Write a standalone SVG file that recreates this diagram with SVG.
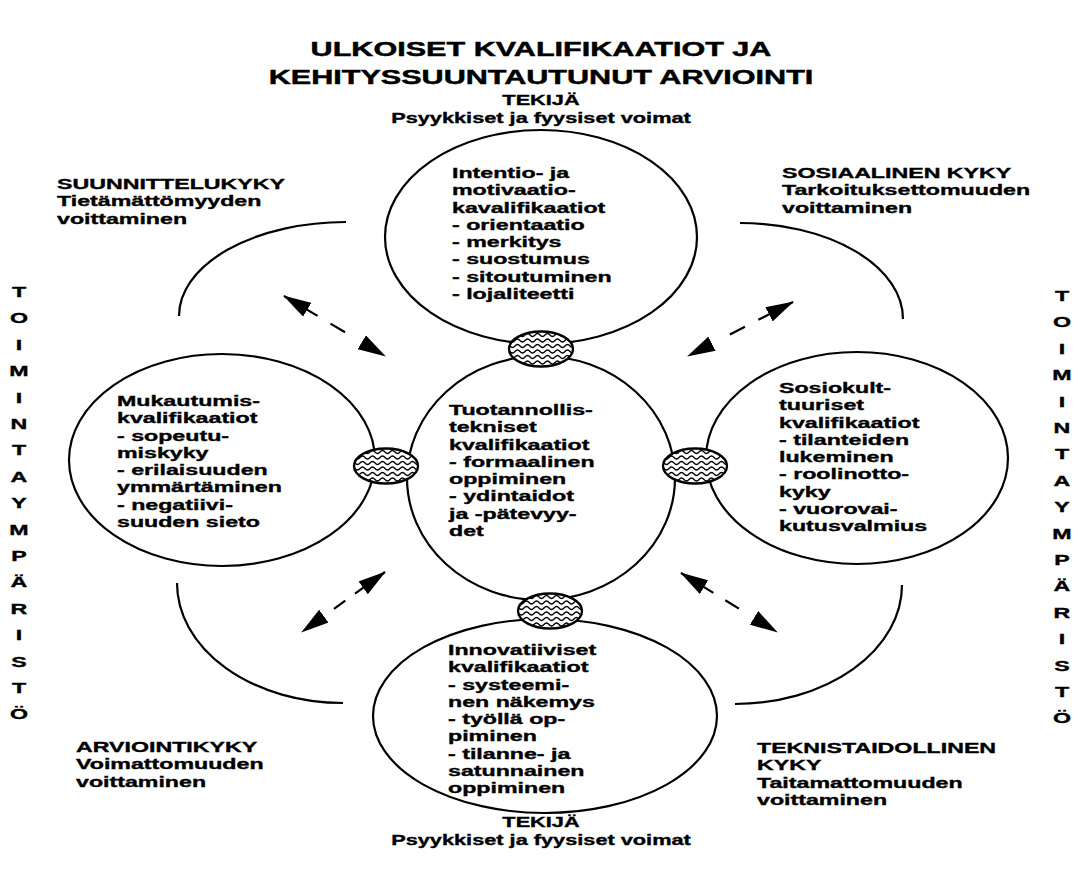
<svg xmlns="http://www.w3.org/2000/svg" xmlns:xlink="http://www.w3.org/1999/xlink" width="1081" height="872" viewBox="0 0 1081 872">
  <style>
    .t { font-family: "Liberation Sans", Arial, Helvetica, sans-serif; font-weight: bold; font-size: 14.5px; fill: #000; stroke: #000; stroke-width: 0.35px; }
    .h { font-family: "Liberation Sans", Arial, Helvetica, sans-serif; font-weight: bold; font-size: 20px; fill: #000; stroke: #000; stroke-width: 0.45px; }
    .c { text-anchor: middle; }
    .ring { fill: none; stroke: #000; stroke-width: 2.2; }
    .arc { fill: none; stroke: #000; stroke-width: 2.2; }
    .dash { fill: none; stroke: #000; stroke-width: 2.2; marker-start: url(#head); marker-end: url(#head); }
  </style>
  <defs>
    <!-- filled arrowhead used at both ends of the dashed connectors -->
    <marker id="head" viewBox="0 0 28 16" refX="27" refY="8" markerWidth="28" markerHeight="16" markerUnits="userSpaceOnUse" orient="auto-start-reverse">
      <path d="M0,0 L28,8 L0,16 z" fill="#000"/>
    </marker>
    <!-- small hatched link where two circles meet -->
    <clipPath id="knotClip"><ellipse cx="0" cy="0" rx="32" ry="17.5"/></clipPath>
    <path id="wave" d="M-36,0 q2.5,-3 5,0 t5,0 t5,0 t5,0 t5,0 t5,0 t5,0 t5,0 t5,0 t5,0 t5,0 t5,0 t5,0 t5,0 t5,0"/>
    <g id="knot">
      <ellipse cx="0" cy="0" rx="32" ry="17.5" fill="#fff"/>
      <g clip-path="url(#knotClip)" fill="none" stroke="#000" stroke-width="1.3">
        <use xlink:href="#wave" y="-14"/>
        <use xlink:href="#wave" y="-8.5"/>
        <use xlink:href="#wave" y="-3"/>
        <use xlink:href="#wave" y="2.5"/>
        <use xlink:href="#wave" y="8"/>
        <use xlink:href="#wave" y="13.5"/>
      </g>
      <ellipse cx="0" cy="0" rx="32" ry="17.5" fill="none" stroke="#000" stroke-width="2.3"/>
    </g>
  </defs>

  <rect x="0" y="0" width="1081" height="872" fill="#fff"/>

  <!-- heading -->
  <g id="title">
    <text class="h c" transform="translate(541,56) scale(1.53,1)"><tspan x="0" y="0">ULKOISET KVALIFIKAATIOT JA</tspan><tspan x="0" y="28">KEHITYSSUUNTAUTUNUT ARVIOINTI</tspan></text>
  </g>

  <!-- outer quarter arcs of the surrounding frame -->
  <g id="frame">
    <path class="arc" d="M179,316 A167,94 0 0 1 346,222"/>
    <path class="arc" d="M740,223 A163,96 0 0 1 903,319"/>
    <path class="arc" d="M177,583 A166,120 0 0 0 343,703"/>
    <path class="arc" d="M902,585 A167,119 0 0 1 735,704"/>
  </g>

  <!-- the five qualification circles -->
  <g id="node-top">
    <ellipse class="ring" cx="541" cy="237" rx="156" ry="107"/>
    <text class="t" transform="translate(452,178) scale(1.6,1)"><tspan x="0" y="0">Intentio- ja</tspan><tspan x="0" dy="17.3">motivaatio-</tspan><tspan x="0" dy="17.3">kavalifikaatiot</tspan><tspan x="0" dy="17.3">- orientaatio</tspan><tspan x="0" dy="17.3">- merkitys</tspan><tspan x="0" dy="17.3">- suostumus</tspan><tspan x="0" dy="17.3">- sitoutuminen</tspan><tspan x="0" dy="17.3">- lojaliteetti</tspan></text>
  </g>

  <g id="node-center">
    <ellipse class="ring" cx="541" cy="478" rx="134" ry="122"/>
    <text class="t" transform="translate(449,415) scale(1.6,1)"><tspan x="0" y="0">Tuotannollis-</tspan><tspan x="0" dy="17.3">tekniset</tspan><tspan x="0" dy="17.3">kvalifikaatiot</tspan><tspan x="0" dy="17.3">- formaalinen</tspan><tspan x="0" dy="17.3">oppiminen</tspan><tspan x="0" dy="17.3">- ydintaidot</tspan><tspan x="0" dy="17.3">ja -pätevyy-</tspan><tspan x="0" dy="17.3">det</tspan></text>
  </g>

  <g id="node-left">
    <ellipse class="ring" cx="222" cy="460" rx="153" ry="106"/>
    <text class="t" transform="translate(117,406) scale(1.6,1)"><tspan x="0" y="0">Mukautumis-</tspan><tspan x="0" dy="17.3">kvalifikaatiot</tspan><tspan x="0" dy="17.3">- sopeutu-</tspan><tspan x="0" dy="17.3">miskyky</tspan><tspan x="0" dy="17.3">- erilaisuuden</tspan><tspan x="0" dy="17.3">ymmärtäminen</tspan><tspan x="0" dy="17.3">- negatiivi-</tspan><tspan x="0" dy="17.3">suuden sieto</tspan></text>
  </g>

  <g id="node-right">
    <ellipse class="ring" cx="857" cy="458" rx="151" ry="106"/>
    <text class="t" transform="translate(779,393) scale(1.6,1)"><tspan x="0" y="0">Sosiokult-</tspan><tspan x="0" dy="17.3">tuuriset</tspan><tspan x="0" dy="17.3">kvalifikaatiot</tspan><tspan x="0" dy="17.3">- tilanteiden</tspan><tspan x="0" dy="17.3">lukeminen</tspan><tspan x="0" dy="17.3">- roolinotto-</tspan><tspan x="0" dy="17.3">kyky</tspan><tspan x="0" dy="17.3">- vuorovai-</tspan><tspan x="0" dy="17.3">kutusvalmius</tspan></text>
  </g>

  <g id="node-bottom">
    <ellipse class="ring" cx="545" cy="716" rx="172" ry="97"/>
    <text class="t" transform="translate(448,655) scale(1.6,1)"><tspan x="0" y="0">Innovatiiviset</tspan><tspan x="0" dy="17.3">kvalifikaatiot</tspan><tspan x="0" dy="17.3">- systeemi-</tspan><tspan x="0" dy="17.3">nen näkemys</tspan><tspan x="0" dy="17.3">- työllä op-</tspan><tspan x="0" dy="17.3">piminen</tspan><tspan x="0" dy="17.3">- tilanne- ja</tspan><tspan x="0" dy="17.3">satunnainen</tspan><tspan x="0" dy="17.3">oppiminen</tspan></text>
  </g>

  <!-- hatched links between the circles -->
  <g id="links">
    <use xlink:href="#knot" x="541" y="349"/>
    <use xlink:href="#knot" x="386" y="466"/>
    <use xlink:href="#knot" x="695" y="466"/>
    <use xlink:href="#knot" x="550" y="611"/>
  </g>

  <!-- dashed two-way connectors -->
  <g id="connectors">
    <line class="dash" x1="284" y1="296" x2="385" y2="356" stroke-dasharray="39 15 17 200"/>
    <line class="dash" x1="793" y1="302" x2="688" y2="356" stroke-dasharray="39 15 17 200"/>
    <line class="dash" x1="385" y1="572" x2="302" y2="632" stroke-dasharray="37 12 14 200"/>
    <line class="dash" x1="681" y1="573" x2="777" y2="632" stroke-dasharray="38 14 16 200"/>
  </g>

  <!-- corner abilities -->
  <g id="label-tekija-top">
    <text class="t c" transform="translate(541,105) scale(1.5,1)"><tspan x="0" y="0">TEKIJÄ</tspan><tspan x="0" dy="18">Psyykkiset ja fyysiset voimat</tspan></text>
  </g>
  <g id="label-suunnittelu">
    <text class="t" transform="translate(57,189) scale(1.6,1)"><tspan x="0" y="0">SUUNNITTELUKYKY</tspan><tspan x="0" dy="17.3">Tietämättömyyden</tspan><tspan x="0" dy="17.3">voittaminen</tspan></text>
  </g>
  <g id="label-sosiaalinen">
    <text class="t" transform="translate(782,178) scale(1.6,1)"><tspan x="0" y="0">SOSIAALINEN KYKY</tspan><tspan x="0" dy="17.3">Tarkoituksettomuuden</tspan><tspan x="0" dy="17.3">voittaminen</tspan></text>
  </g>
  <g id="label-arviointi">
    <text class="t" transform="translate(76,752) scale(1.6,1)"><tspan x="0" y="0">ARVIOINTIKYKY</tspan><tspan x="0" dy="17.3">Voimattomuuden</tspan><tspan x="0" dy="17.3">voittaminen</tspan></text>
  </g>
  <g id="label-teknistaidollinen">
    <text class="t" transform="translate(757,753) scale(1.6,1)"><tspan x="0" y="0">TEKNISTAIDOLLINEN</tspan><tspan x="0" dy="17.3">KYKY</tspan><tspan x="0" dy="17.3">Taitamattomuuden</tspan><tspan x="0" dy="17.3">voittaminen</tspan></text>
  </g>
  <g id="label-tekija-bottom">
    <text class="t c" transform="translate(541,827) scale(1.5,1)"><tspan x="0" y="0">TEKIJÄ</tspan><tspan x="0" dy="18">Psyykkiset ja fyysiset voimat</tspan></text>
  </g>

  <!-- vertical side captions -->
  <g id="side-left">
    <text class="t c" transform="translate(19,0) scale(1.6,1)"><tspan x="0" y="297">T</tspan><tspan x="0" y="323.4">O</tspan><tspan x="0" y="349.8">I</tspan><tspan x="0" y="376.2">M</tspan><tspan x="0" y="402.6">I</tspan><tspan x="0" y="429">N</tspan><tspan x="0" y="455.4">T</tspan><tspan x="0" y="481.8">A</tspan><tspan x="0" y="508.2">Y</tspan><tspan x="0" y="534.6">M</tspan><tspan x="0" y="561">P</tspan><tspan x="0" y="587.4">Ä</tspan><tspan x="0" y="613.8">R</tspan><tspan x="0" y="640.2">I</tspan><tspan x="0" y="666.6">S</tspan><tspan x="0" y="693">T</tspan><tspan x="0" y="719.4">Ö</tspan></text>
  </g>
  <g id="side-right">
    <text class="t c" transform="translate(1062,0) scale(1.6,1)"><tspan x="0" y="301">T</tspan><tspan x="0" y="327.4">O</tspan><tspan x="0" y="353.8">I</tspan><tspan x="0" y="380.2">M</tspan><tspan x="0" y="406.6">I</tspan><tspan x="0" y="433">N</tspan><tspan x="0" y="459.4">T</tspan><tspan x="0" y="485.8">A</tspan><tspan x="0" y="512.2">Y</tspan><tspan x="0" y="538.6">M</tspan><tspan x="0" y="565">P</tspan><tspan x="0" y="591.4">Ä</tspan><tspan x="0" y="617.8">R</tspan><tspan x="0" y="644.2">I</tspan><tspan x="0" y="670.6">S</tspan><tspan x="0" y="697">T</tspan><tspan x="0" y="723.4">Ö</tspan></text>
  </g>
</svg>
